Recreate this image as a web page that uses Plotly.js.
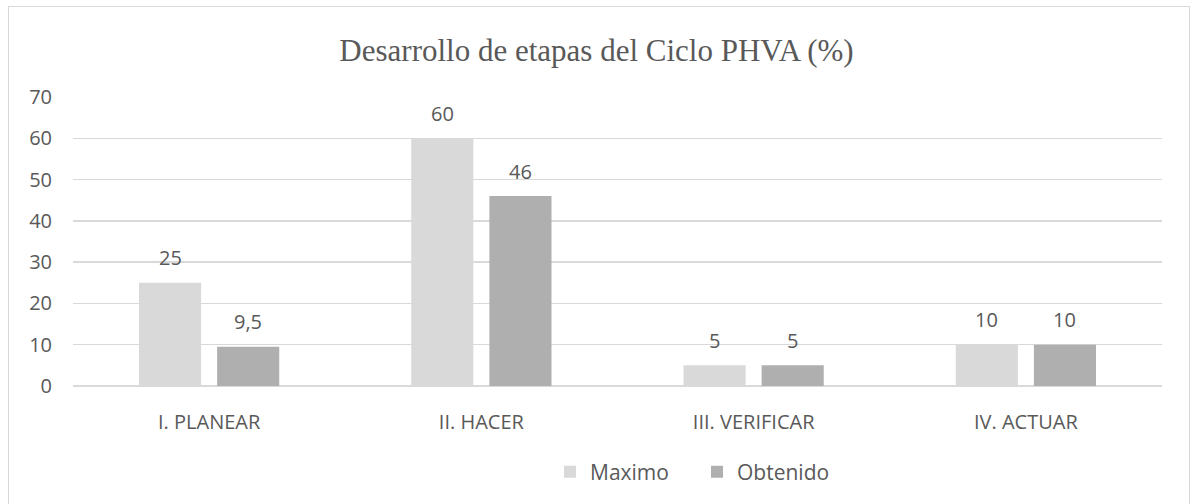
<!DOCTYPE html>
<html>
<head>
<meta charset="utf-8">
<script src="https://cdn.plot.ly/plotly-3.0.1.min.js"></script>
<style>
  html, body { margin: 0; padding: 0; background: #ffffff; }
  #wrap { position: relative; width: 1193px; height: 504px; overflow: hidden; background: #ffffff; }
  #frame { position: absolute; left: 8px; top: 6px; width: 1180px; height: 520px; border: 1px solid #d9d9d9; }
  #chart { position: absolute; left: 0; top: 0; width: 1193px; height: 504px; }
</style>
</head>
<body>
<div id="wrap">
  <div id="frame"></div>
  <div id="chart"></div>
</div>
<script>
const categories = ["I. PLANEAR", "II. HACER", "III. VERIFICAR", "IV. ACTUAR"];
const maximo = [25, 60, 5, 10];
const obtenido = [9.5, 46, 5, 10];
const seriesNames = ["Maximo", "Obtenido"];
const yTicks = [0, 10, 20, 30, 40, 50, 60, 70];

const colors = ["#d9d9d9", "#afafaf"];
const txtColor = "#595959";
const font = "'Open Sans', 'Noto Sans', sans-serif";

const traces = [maximo, obtenido].map((vals, i) => ({
  type: "bar",
  name: seriesNames[i],
  x: categories,
  y: vals,
  marker: { color: colors[i] },
  hoverinfo: "skip"
}));

const fmt = v => String(v).replace(".", ",");
const annotations = [];
[maximo, obtenido].forEach((vals, i) => {
  vals.forEach((v, j) => {
    annotations.push({
      x: categories[j], y: v, xref: "x", yref: "y",
      text: fmt(v), showarrow: false,
      xshift: i === 0 ? -39 : 39, yshift: 25,
      yanchor: "middle",
      font: { family: font, size: 20, color: txtColor }
    });
  });
});

const layout = {
  width: 1193, height: 504,
  margin: { l: 73, r: 31, t: 97, b: 118, pad: 0 },
  paper_bgcolor: "rgba(0,0,0,0)",
  plot_bgcolor: "rgba(0,0,0,0)",
  separators: ",.",
  title: {
    text: "Desarrollo de etapas del Ciclo PHVA (%)",
    font: { family: "'Liberation Serif', 'Times New Roman', serif", size: 31, color: txtColor },
    x: 0.5, xanchor: "center", xref: "container",
    y: 1 - 50 / 504, yanchor: "middle", yref: "container"
  },
  barmode: "group",
  bargap: 0.426,
  bargroupgap: 0.205,
  xaxis: {
    showgrid: false, zeroline: false, showline: false,
    ticks: "", ticklabelstandoff: 22,
    tickfont: { family: font, size: 20, color: txtColor },
    fixedrange: true
  },
  yaxis: {
    range: [0, 70], tickvals: yTicks,
    showgrid: true, gridcolor: "#d9d9d9", gridwidth: 1.3,
    zeroline: true, zerolinecolor: "#d9d9d9", zerolinewidth: 1.3,
    showline: false, ticks: "", ticklabelstandoff: 20,
    tickfont: { family: font, size: 20, color: txtColor },
    fixedrange: true
  },
  legend: {
    orientation: "h",
    x: (550 - 73) / 1089, xanchor: "left",
    y: (386 - 472) / 289, yanchor: "middle",
    entrywidth: 102, entrywidthmode: "pixels",
    font: { family: font, size: 21, color: txtColor },
    itemclick: false, itemdoubleclick: false
  },
  showlegend: true,
  annotations: annotations
};

Plotly.newPlot("chart", traces, layout, { displayModeBar: false, staticPlot: true });
</script>
</body>
</html>
